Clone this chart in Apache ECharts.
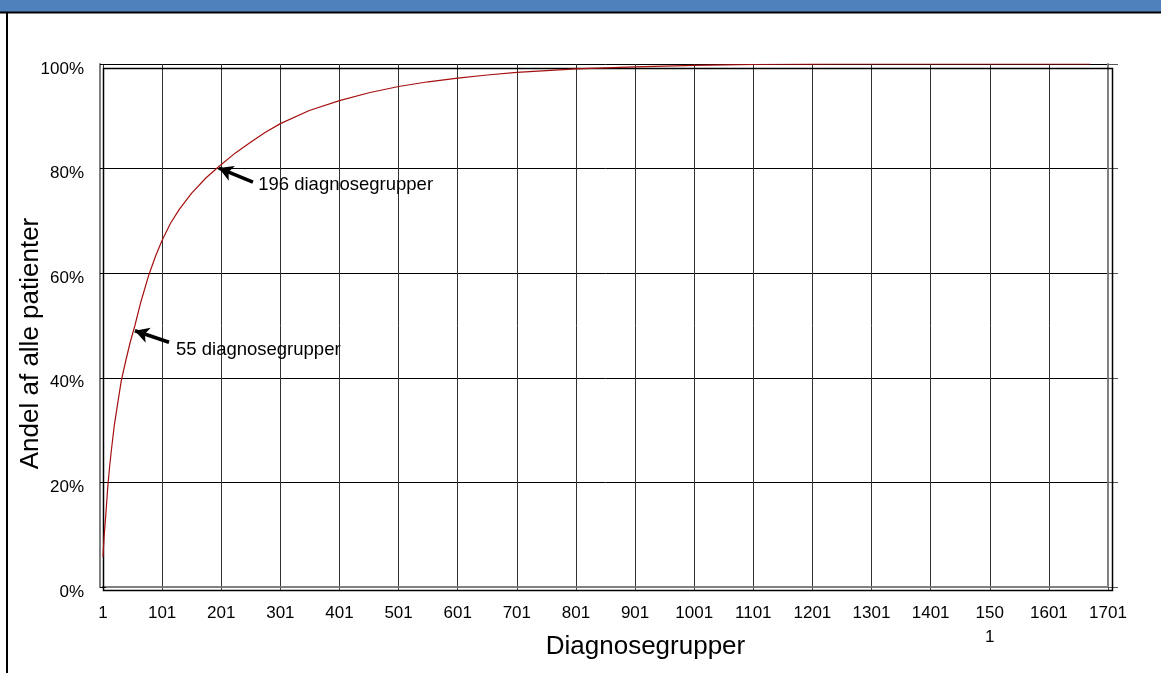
<!DOCTYPE html>
<html>
<head>
<meta charset="utf-8">
<script src="https://cdn.jsdelivr.net/npm/echarts@6/dist/echarts.min.js"></script>
<style>
html,body{margin:0;padding:0;background:#fff;}
#chart{width:1161px;height:673px;}
</style>
</head>
<body>
<div id="chart"></div>
<script>
// Number of diagnosis groups (x) and cumulative share of all patients (%)
var groups = [1, 2, 3, 4, 6, 9, 12, 15, 20, 25, 32, 40, 47, 55, 65, 78, 90, 101, 115, 130, 151, 175, 196, 225, 250, 275, 301, 350, 401, 451, 501, 551, 601, 651, 701, 751, 801, 851, 901, 951, 1001, 1051, 1101, 1151, 1201, 1251, 1400, 1550, 1671];
var share  = [5.8, 8, 9.8, 11.3, 14.2, 19, 22.8, 26, 30.8, 34.5, 39.5, 43.5, 46.8, 50, 54.5, 59.5, 63.3, 66.3, 69.5, 72.2, 75.3, 78.2, 80.3, 83, 85, 86.9, 88.6, 91.1, 93, 94.5, 95.7, 96.6, 97.3, 97.9, 98.4, 98.75, 99.05, 99.25, 99.45, 99.6, 99.72, 99.82, 99.9, 99.95, 99.98, 100, 100, 100, 100];
var xTickValues = [1, 101, 201, 301, 401, 501, 601, 701, 801, 901, 1001, 1101, 1201, 1301, 1401, 1501, 1601, 1701];
var xTickLabels = ['1', '101', '201', '301', '401', '501', '601', '701', '801', '901', '1001', '1101', '1201', '1301', '1401', '150\n1', '1601', '1701'];
var yTickValues = [0, 20, 40, 60, 80, 100];
var yTickLabels = ['0%', '20%', '40%', '60%', '80%', '100%'];
// annotations: [arrow tail x, tail y, arrow tip x, tip y, text x, text y, text]
var notes = [
  [112.6, 46.8, 55, 49.0, 124.5, 45.3, '55 diagnosegrupper'],
  [254.7, 77.4, 197, 80.1, 263.5, 76.9, '196 diagnosegrupper']
];

var FONT = '"Liberation Sans", Arial, sans-serif';
var chart = echarts.init(document.getElementById('chart'));

var lineData = groups.map(function (g, i) { return [g, share[i]]; });

chart.setOption({
  animation: false,
  backgroundColor: '#fff',
  textStyle: { fontFamily: FONT },
  grid: { left: 103, right: 53, top: 64, bottom: 86, containLabel: false, outerBoundsMode: 'none' },
  xAxis: [{
    type: 'value', min: 1, max: 1701, position: 'bottom',
    name: 'Diagnosegrupper', nameLocation: 'middle', nameGap: 47, nameMoveOverlap: false,
    nameTextStyle: { fontSize: 26, color: '#000', fontFamily: FONT, padding: [0, 0, 0, 80] },
    axisLine: { show: true, lineStyle: { color: '#808080', width: 2 } },
    axisTick: { show: true, inside: false, length: 4, customValues: xTickValues, lineStyle: { color: '#555' } },
    axisLabel: {
      customValues: xTickValues, margin: 14, fontSize: 17, color: '#000', lineHeight: 24, fontFamily: FONT,
      formatter: function (v) { var i = xTickValues.indexOf(v); return i >= 0 ? xTickLabels[i] : ''; }
    },
    splitLine: { show: true, lineStyle: { color: '#303030', width: 1 } }
  }, {
    type: 'value', min: 1, max: 1701, position: 'top',
    axisLine: { show: true, lineStyle: { color: '#808080', width: 2 } },
    axisTick: { show: false }, axisLabel: { show: false }, splitLine: { show: false }
  }],
  yAxis: [{
    type: 'value', min: 0, max: 100, interval: 20, position: 'left', offset: 3,
    name: 'Andel af alle patienter', nameLocation: 'middle', nameGap: 56, nameRotate: 90, nameMoveOverlap: false,
    nameTextStyle: { fontSize: 26, color: '#000', fontFamily: FONT, padding: [0, 36, 0, 0] },
    axisLine: { show: true, lineStyle: { color: '#808080', width: 2 } },
    axisTick: { show: true, inside: true, length: 6, lineStyle: { color: '#000' } },
    axisLabel: {
      margin: 16, fontSize: 17, color: '#000', fontFamily: FONT, verticalAlign: 'top', lineHeight: 10,
      formatter: function (v) { var i = yTickValues.indexOf(v); return i >= 0 ? yTickLabels[i] : ''; }
    },
    splitLine: { show: true, lineStyle: { color: '#000', width: 1 } }
  }, {
    type: 'value', min: 0, max: 100, interval: 20, position: 'right',
    axisLine: { show: true, lineStyle: { color: '#808080', width: 2 } },
    axisTick: { show: true, inside: false, length: 10, lineStyle: { color: '#555' } },
    axisLabel: { show: false }, splitLine: { show: false }
  }],
  graphic: [
    { type: 'rect', shape: { x: 0, y: 0, width: 1161, height: 12 }, style: { fill: '#4f81bd' }, z: 100 },
    { type: 'line', shape: { x1: 0, y1: 12.5, x2: 1161, y2: 12.5 }, style: { stroke: '#000', lineWidth: 2 }, z: 100 },
    { type: 'line', shape: { x1: 7, y1: 12, x2: 7, y2: 673 }, style: { stroke: '#000', lineWidth: 2 }, z: 100 },
    { type: 'rect', shape: { x: 103.5, y: 68.5, width: 1009, height: 522 }, style: { fill: null, stroke: '#000', lineWidth: 1.5 }, z: 1 }
  ],
  series: [{
    type: 'line',
    data: lineData,
    smooth: false,
    showSymbol: false,
    symbol: 'none',
    lineStyle: { color: '#a50f0f', width: 1.2 },
    z: 5,
    markLine: {
      silent: true,
      symbol: ['none', 'arrow'],
      symbolSize: [12, 14],
      label: { show: false },
      lineStyle: { color: '#000', width: 3.5, type: 'solid' },
      data: notes.map(function (n) {
        return [{ coord: [n[0], n[1]] }, { coord: [n[2], n[3]] }];
      })
    },
    markPoint: {
      silent: true,
      symbol: 'circle', symbolSize: 0,
      label: {
        show: true, position: 'right', distance: 0, color: '#000', fontSize: 18.5, fontFamily: FONT,
        formatter: function (p) { return p.name; }
      },
      data: notes.map(function (n) { return { name: n[6], coord: [n[4], n[5]] }; })
    }
  }]
});
</script>
</body>
</html>
